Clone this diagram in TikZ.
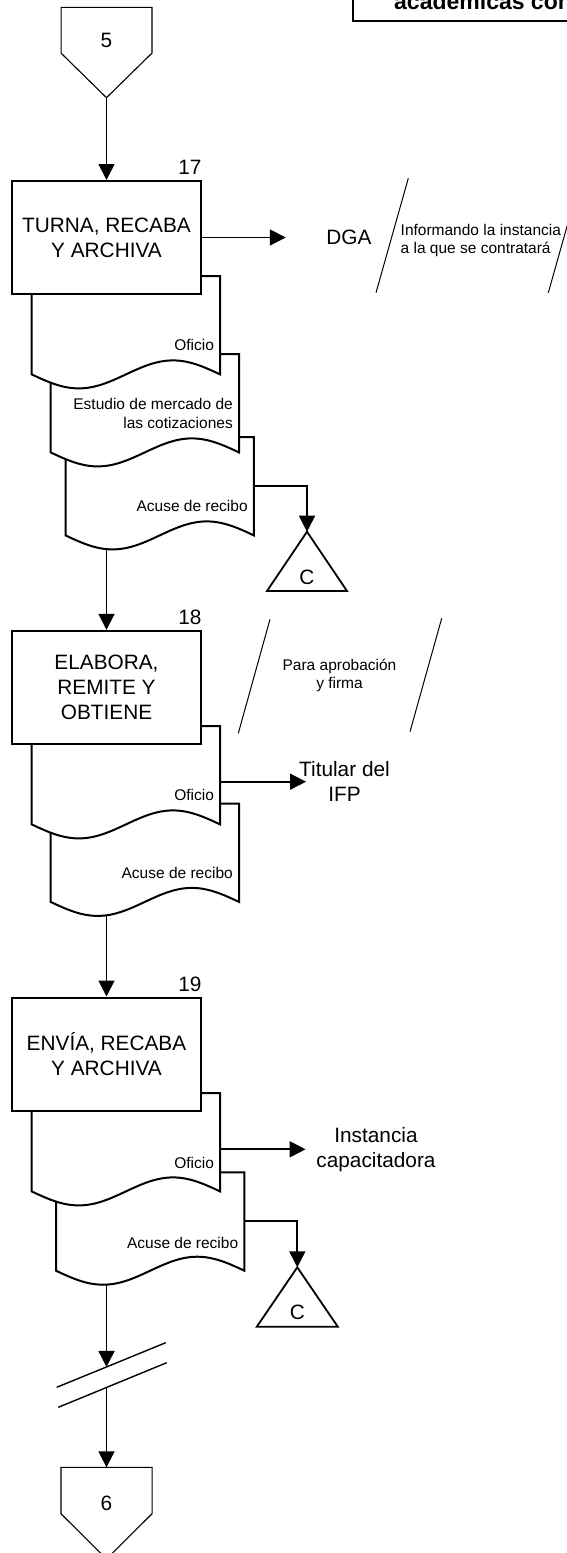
\documentclass[tikz,border=0pt]{standalone}
\usepackage{fontspec}
\setmainfont{Liberation Sans}
\usetikzlibrary{arrows.meta,calc}
\pgfdeclarelayer{back}
\pgfdeclarelayer{mid}
\pgfsetlayers{back,mid,main}
\newcommand\fbig{\fontsize{20.8}{25}\selectfont}
\newcommand\fsmall{\fontsize{15.5}{18.5}\selectfont}
\newcommand\fhead{\fontsize{23}{27}\selectfont\bfseries}
\newcommand\drawdoc[1]{%
  \path[docline] (#1.south west) -- (#1.north west) -- (#1.north east) -- (#1.south east)
    sin ($(#1.south west)!0.75!(#1.south east)+(0,-14)$)
    cos ($(#1.south west)!0.5!(#1.south east)$)
    sin ($(#1.south west)!0.25!(#1.south east)+(0,14)$)
    cos (#1.south west) -- cycle;}
\tikzset{
  procbox/.style={draw, line width=2pt, fill=white, minimum width=188.4pt,
    minimum height=113pt, inner sep=0pt, align=center, font=\fbig},
  docframe/.style={minimum width=188pt, minimum height=98pt, inner sep=0pt, anchor=north west},
  docline/.style={draw, fill=white, line width=2pt},
  conn/.style={line width=1.8pt, -{Triangle[length=16pt,width=16pt]}},
  pent/.style={line width=1.1pt},
  tri/.style={line width=1.8pt},
  slash/.style={line width=1pt},
  brk/.style={line width=1.4pt},
  lbl/.style={font=\fbig, inner sep=0pt, align=center},
  slbl/.style={font=\fsmall, inner sep=0pt},
}
\begin{document}
\begin{tikzpicture}[x=1pt,y=-1pt]
\useasboundingbox (0,0) rectangle (567,1553);

% header box (cut by page edge)
\draw[line width=2pt] (352.7,-30) rectangle (650,20.7);
\node[anchor=base west, inner sep=0pt, font=\fhead] (hdr) at (394,9.5) {académicas con};

% off-page connector 5
\node[inner sep=0pt, minimum width=90.5pt, minimum height=45.4pt, anchor=north] (c5) at (106.5,7.3) {};
\coordinate (c5tip) at ($(c5.south)+(0,44.6)$);
\draw[pent] (c5.south west) -- (c5.north west) -- (c5.north east) -- (c5.south east) -- (c5tip) -- cycle;
\node[lbl] (c5t) at (106.5,40) {5};

% process boxes
\node[procbox] (b17) at (106.5,237.5) {TURNA, RECABA\\Y ARCHIVA};
\node[lbl, anchor=base east] (n17) at ($(b17.north east)+(0,-5.5)$) {17};
\node[procbox] (b18) at (106.5,687.3) {ELABORA,\\REMITE Y\\OBTIENE};
\node[lbl, anchor=base east] (n18) at ($(b18.north east)+(0,-5.5)$) {18};
\node[procbox] (b19) at (106.5,1054) {ENVÍA, RECABA\\Y ARCHIVA};
\node[lbl, anchor=base east] (n19) at ($(b19.north east)+(0,-5.5)$) {19};

% document frames
\node[docframe] (d17a) at (31.7,276) {};
\node[docframe] (d17b) at (50.6,354) {};
\node[docframe] (d17c) at (65.5,437) {};
\node[docframe] (d18a) at (31.7,726) {};
\node[docframe] (d18b) at (50.6,803.5) {};
\node[docframe] (d19a) at (31.7,1093) {};
\node[docframe] (d19b) at (56,1172.3) {};

\begin{pgfonlayer}{mid}
  \drawdoc{d17c}\drawdoc{d17b}\drawdoc{d17a}
  \drawdoc{d18b}\drawdoc{d18a}
  \drawdoc{d19b}\drawdoc{d19a}
\end{pgfonlayer}

% document labels
\node[slbl, anchor=east] (t17a) at ($(d17a.north east)+(-6,69)$) {Oficio};
\node[slbl, anchor=east, align=right] (t17b) at ($(d17b.north east)+(-6,59.3)$) {Estudio de mercado de\\las cotizaciones};
\node[slbl, anchor=east] (t17c) at ($(d17c.north east)+(-6,69)$) {Acuse de recibo};
\node[slbl, anchor=east] (t18a) at ($(d18a.north east)+(-6,69)$) {Oficio};
\node[slbl, anchor=east] (t18b) at ($(d18b.north east)+(-6,69.2)$) {Acuse de recibo};
\node[slbl, anchor=east] (t19a) at ($(d19a.north east)+(-6,70)$) {Oficio};
\node[slbl, anchor=east] (t19b) at ($(d19b.north east)+(-6,70.4)$) {Acuse de recibo};

% destinations
\node[lbl] (dga) at (349,237.5) {DGA};
\node[lbl] (tit) at (344.5,781.5) {Titular del\\IFP};
\node[lbl] (inst) at (376,1149.7) {Instancia\\capacitadora};
\coordinate (titIn) at (306,781.7);
\coordinate (instIn) at (305.6,1149.3);

% comment slashes
\draw[slash] (408.3,178.3) -- (376,292.7);
\draw[slash] (580.6,178.3) -- (548.3,292.7);
\node[slbl, anchor=west, align=left] (info) at (400.5,240.3) {Informando la instancia\\a la que se contratará};
\draw[slash] (270,619.3) -- (238.3,733.3);
\draw[slash] (441.7,618.3) -- (410,731.7);
\node[slbl, align=center] (para) at (339.5,675.5) {Para aprobación\\y firma};

% archive triangles
\coordinate (t1) at (307,531.7);
\draw[tri] (t1) -- ++(40,59.3) -- ++(-80,0) -- cycle;
\node[lbl] (t1c) at (307,577) {C};
\coordinate (t2) at (297.3,1267.3);
\draw[tri] (t2) -- ++(40.5,59.4) -- ++(-81,0) -- cycle;
\node[lbl] (t2c) at (297.3,1312) {C};

% break symbol
\draw[brk] (56.7,1387.3) -- (165.7,1342.7);
\draw[brk] (58.3,1407.3) -- (166.7,1362.7);
\coordinate (brk1) at (106.5,1366.9);
\coordinate (brk2) at (106.5,1387.5);

% off-page connector 6
\node[inner sep=0pt, minimum width=90.7pt, minimum height=46pt, anchor=north] (c6) at (106.5,1467.3) {};
\coordinate (c6tip) at ($(c6.south)+(0,45.3)$);
\draw[pent] (c6.south west) -- (c6.north west) -- (c6.north east) -- (c6.south east) -- (c6tip) -- cycle;
\node[lbl] (c6t) at (106.5,1503.3) {6};

% connectors
\begin{pgfonlayer}{back}
  \draw[conn] (c5tip) -- (b17.north);
  \draw[conn, shorten >=40.5pt] (b17.east) -- (b17.east -| dga.west);
  \draw[conn] ($(d17c.north east)+(0,49)$) -| (t1);
  \draw[conn] (d17c.south -| b18.north) -- (b18.north);
  \draw[conn] (d18a.east |- titIn) -- (titIn);
  \draw[conn] (d18b.south -| b19.north) -- (b19.north);
  \draw[conn] (d19a.east |- instIn) -- (instIn);
  \draw[conn] ($(d19b.north east)+(0,48.4)$) -| (t2);
  \draw[conn] (d19b.south -| brk1) -- (brk1);
  \draw[conn] (brk2) -- (c6.north);
\end{pgfonlayer}
\end{tikzpicture}
\end{document}
